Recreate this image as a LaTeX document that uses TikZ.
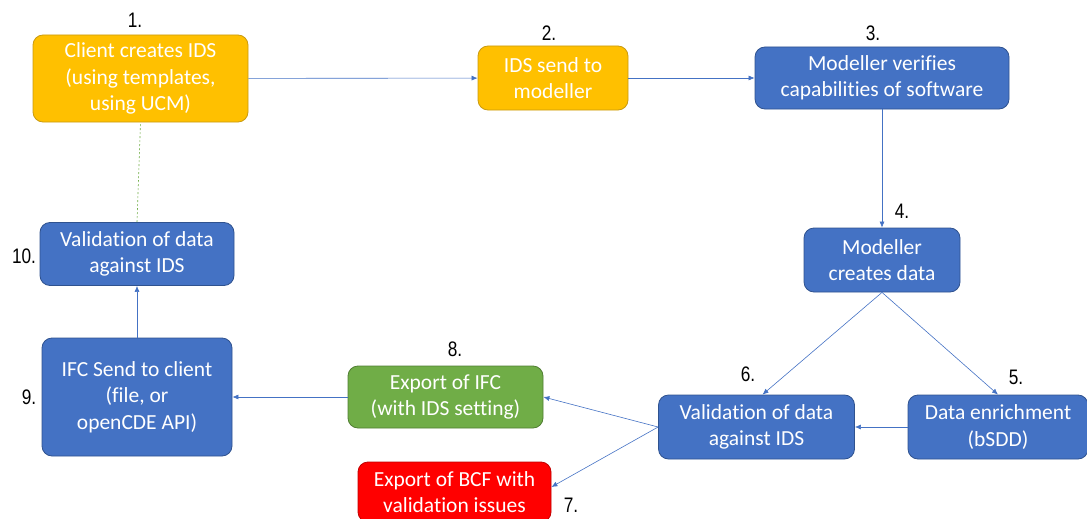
\documentclass[tikz,border=0pt]{standalone}
\usepackage{fontspec}
\setmainfont{Carlito}[Ligatures={NoCommon}]
\newfontfamily\numfont[FakeStretch=0.82]{Liberation Sans}
\usetikzlibrary{arrows.meta}
\definecolor{idsorange}{HTML}{FFC000}
\definecolor{idsorangeline}{HTML}{C99A10}
\definecolor{idsblue}{HTML}{4472C4}
\definecolor{idsblueline}{HTML}{2F528F}
\definecolor{idsgreen}{HTML}{70AD47}
\definecolor{idsgreenline}{HTML}{507E32}
\definecolor{idsred}{HTML}{FF0000}
\definecolor{idsredline}{HTML}{C00000}
\begin{document}
\begin{tikzpicture}[x=1pt,y=-1pt,
    box/.style={draw,rounded corners=10pt,inner sep=0pt,align=center,
        text=white,line width=0.8pt,font=\fontsize{21.5}{26.5}\selectfont},
    orangebox/.style={box,fill=idsorange,draw=idsorangeline},
    bluebox/.style={box,fill=idsblue,draw=idsblueline},
    greenbox/.style={box,fill=idsgreen,draw=idsgreenline},
    redbox/.style={box,fill=idsred,draw=idsredline},
    flow/.style={draw=idsblue,line width=0.6pt,-{Latex[length=6pt,width=5pt]}},
    stepnum/.style={font=\numfont\fontsize{21}{24}\selectfont}]
\useasboundingbox (0,0) rectangle (1087,519);

\node[orangebox,minimum width=215,minimum height=87] (b1) at (140.5,78.5)
    {Client creates IDS\\(using templates,\\using UCM)};
\node[orangebox,minimum width=150,minimum height=64] (b2) at (553,78)
    {IDS send to\\modeller};
\node[bluebox,minimum width=254,minimum height=62] (b3) at (882,78)
    {Modeller verifies\\capabilities of software};
\node[bluebox,minimum width=156,minimum height=64] (b4) at (882,260)
    {Modeller\\creates data};
\node[bluebox,minimum width=180,minimum height=64] (b5) at (998,427)
    {Data enrichment\\(bSDD)};
\node[bluebox,minimum width=196,minimum height=64] (b6) at (756.5,427)
    {Validation of data\\against IDS};
\node[redbox,minimum width=193,minimum height=60] (b7) at (454.5,492)
    {Export of BCF with\\validation issues};
\node[greenbox,minimum width=195,minimum height=62] (b8) at (445.5,397)
    {Export of IFC\\(with IDS setting)};
\node[bluebox,minimum width=190,minimum height=118] (b9) at (137,397)
    {IFC Send to client\\(file, or\\openCDE API)};
\node[bluebox,minimum width=194,minimum height=63] (b10) at (137,254)
    {Validation of data\\against IDS};

\foreach \n/\x/\y in {1/135/20,2/549/33,3/873/33,4/902/211,5/1016/377,
    6/748/374,7/571/505,8/455/349,9/29/397,10/24/256}{
\node[stepnum] (n\n) at (\x,\y) {\n.};
}

\draw[flow] (b1) -- (b2);
\draw[flow] (b2) -- (b3);
\draw[flow] (b3) -- (b4);
\draw[flow] (b4.south) -- ([xshift=6pt]b6.north);
\draw[flow] (b4.south) -- (b5.north);
\draw[flow] (b5) -- (b6);
\draw[flow] (b6.west) -- (b8.east);
\draw[flow] (b6.west) -- ([yshift=5pt]b7.east);
\draw[flow] (b8) -- (b9);
\draw[flow] (b9) -- (b10);
\draw[idsgreen,dash pattern=on 2pt off 2pt,line width=0.6pt] (b10.north) -- (b1.south);

\end{tikzpicture}
\end{document}
